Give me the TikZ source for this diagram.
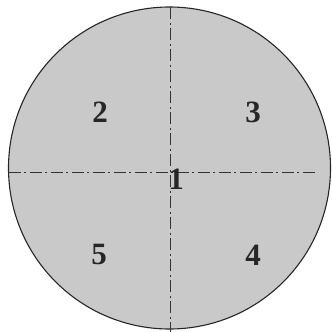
\documentclass[tikz,border=0pt]{standalone}
\usepackage{fontspec}
\setmainfont{Liberation Serif}
\begin{document}
\begin{tikzpicture}[x=1pt,y=-1pt]
	% Styles
	\tikzstyle{disque}=[draw=black!85,line width=1.1pt,fill=black!21]
	\tikzstyle{axe}=[black!80,line width=0.9pt,dash pattern=on 12pt off 3.5pt on 2pt off 3.5pt]
	\tikzstyle{zone}=[font=\fontsize{31}{31}\selectfont\bfseries,text=black!85,inner sep=0pt]
	% Dimensions
	\def\CentreX{169.5}
	\def\CentreY{168}
	\def\Rayon{161}
	% Cadre
	\useasboundingbox (0,0) rectangle (332,332);
	\fill[white] (0,0) rectangle (332,332);
	% Disque
	\draw[disque] (\CentreX,\CentreY) circle (\Rayon);
	% Axes
	\coordinate (haut) at (170,7);
	\coordinate (bas) at (170,332);
	\coordinate (gauche) at (8.5,172);
	\coordinate (droite) at (316,172);
	\draw[axe] (haut)--(bas);
	\draw[axe] (gauche)--(droite);
	% Zones
	\node[zone] (Z1) at (176,179) {1};
	\node[zone] (Z2) at (100,112) {2};
	\node[zone] (Z3) at (253,112) {3};
	\node[zone] (Z4) at (253,255) {4};
	\node[zone] (Z5) at (99,254) {5};
\end{tikzpicture}
\end{document}
